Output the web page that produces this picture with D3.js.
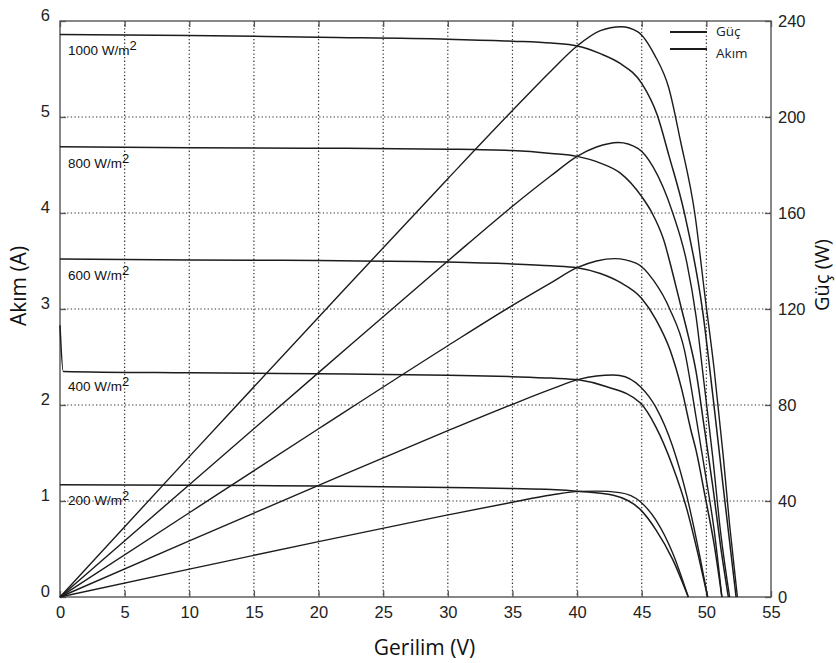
<!DOCTYPE html>
<html>
<head>
<meta charset="utf-8">
<script src="https://cdn.jsdelivr.net/npm/d3@7/dist/d3.min.js"></script>
<style>
    body { margin: 0; background: #fff; }
    svg { display: block; }
</style>
</head>
<body>
<div id="chart"></div>
<script>
// values, [gerilim V, akim A] and [gerilim V, guc W]
var irradiances = ['1000', '800', '600', '400', '200'];

var current1000 = [[0, 5.86], [10, 5.85], [20, 5.83], [30, 5.81], [35, 5.79], [38, 5.77], [40, 5.74], [41.8, 5.66], [43.3, 5.56], [45, 5.35], [46.2, 5.02], [47.1, 4.6], [48.3, 4.0], [49.7, 2.99], [50.5, 2.1], [51.3, 1.15], [52.3, 0]];
var power1000 = [[0, 0], [10, 58.5], [20, 116.6], [30, 174.3], [35, 202.7], [38, 219.3], [40, 229.6], [41.8, 236], [43.4, 237.6], [44.7, 235.5], [46, 225.8], [47.1, 212], [48, 190], [49.1, 160], [49.9, 125], [50.6, 95], [51.3, 59], [51.8, 30], [52.4, 0]];

var current800 = [[0, 4.69], [10, 4.68], [20, 4.675], [30, 4.665], [35, 4.65], [38, 4.62], [40, 4.59], [41.8, 4.52], [43.3, 4.42], [45, 4.17], [45.8, 4.0], [46.7, 3.72], [47.4, 3.37], [48.1, 2.99], [48.6, 2.72], [49.2, 2.35], [49.8, 1.8], [50.5, 1.15], [51.1, 0.53], [51.7, 0]];
var power800 = [[0, 0], [10, 46.8], [20, 93.5], [30, 140], [35, 162.8], [38, 175.6], [40, 183.6], [41.5, 187.5], [43.2, 189.4], [44.7, 186.9], [45.9, 179], [47.4, 160], [48.5, 139], [49.2, 117], [49.8, 90], [50.5, 58], [51.1, 27], [51.8, 0]];

var current600 = [[0, 3.52], [10, 3.51], [20, 3.505], [30, 3.49], [35, 3.47], [38, 3.45], [40, 3.43], [41.8, 3.37], [43.3, 3.28], [45, 3.11], [46.1, 2.89], [47.2, 2.57], [48.1, 2.16], [48.8, 1.74], [49.2, 1.53], [49.9, 1.05], [50.6, 0.55], [51.2, 0]];
var power600 = [[0, 0], [10, 35.1], [20, 70.1], [30, 104.7], [35, 121.5], [38, 131], [40, 137.2], [41.5, 140], [42.9, 141], [44.6, 139], [45.9, 132], [47.2, 119.6], [48.3, 103], [49.2, 75], [49.9, 52], [50.6, 28], [51.2, 0]];

var current400 = [[0, 2.83], [0.25, 2.35], [10, 2.335], [20, 2.325], [30, 2.31], [35, 2.295], [38, 2.28], [40.2, 2.26], [42.3, 2.19], [44.9, 2.02], [46.1, 1.77], [47.4, 1.36], [48.5, 0.91], [49.4, 0.42], [50.1, 0]];
var power400 = [[0, 0], [10, 23.4], [20, 46.5], [30, 69.3], [35, 80.3], [38, 86.6], [40.2, 90.8], [42.8, 92.5], [43.3, 92.3], [44.9, 87.6], [46.1, 79], [47.4, 62.6], [48.5, 41.8], [49.5, 16.8], [50.1, 0]];

var current200 = [[0, 1.17], [10, 1.165], [20, 1.155], [30, 1.14], [35, 1.13], [38, 1.12], [40.2, 1.10], [42.8, 1.06], [44.9, 0.91], [46.1, 0.70], [47.4, 0.39], [48.6, 0]];
var power200 = [[0, 0], [10, 11.6], [20, 23.1], [30, 34.2], [35, 39.5], [38, 42.5], [40.2, 44], [41.5, 44.1], [43.3, 43.5], [44.9, 39.7], [46.1, 32], [47.4, 18.2], [48.6, 0]];

var voltageTicks = [0, 5, 10, 15, 20, 25, 30, 35, 40, 45, 50, 55];
var currentTicks = [0, 1, 2, 3, 4, 5, 6];
var powerTicks = [0, 40, 80, 120, 160, 200, 240];
var legendLabels = ['Güç', 'Akım'];

var currents = [current1000, current800, current600, current400, current200];
var powers = [power1000, power800, power600, power400, power200];

var width = 836, height = 663;
var margin = {top: 21, right: 65, bottom: 66, left: 60};
var lineColor = '#1c1c1c';
var tickFont = '"Liberation Sans", Arial, sans-serif';
var titleFont = '"Open Sans", "DejaVu Sans", sans-serif';

var svg = d3.select('#chart').append('svg')
    .attr('width', width)
    .attr('height', height);

var x = d3.scaleLinear().domain([0, 55]).range([margin.left, width - margin.right]);
var yI = d3.scaleLinear().domain([0, 6]).range([height - margin.bottom, margin.top]);
var yP = d3.scaleLinear().domain([0, 240]).range([height - margin.bottom, margin.top]);

// dotted grid
var grid = svg.append('g')
    .attr('stroke', '#333')
    .attr('stroke-width', 1.2)
    .attr('stroke-dasharray', '1.3,2.3');
grid.selectAll('.gx')
    .data(voltageTicks.slice(1, -1))
    .enter().append('line')
    .attr('x1', function (d) { return x(d); })
    .attr('x2', function (d) { return x(d); })
    .attr('y1', yI(6))
    .attr('y2', yI(0));
grid.selectAll('.gy')
    .data(currentTicks.slice(1, -1))
    .enter().append('line')
    .attr('x1', x(0))
    .attr('x2', x(55))
    .attr('y1', function (d) { return yI(d); })
    .attr('y2', function (d) { return yI(d); });

// axes, ticks pointing inward
function styleAxis(g) {
    g.select('.domain').remove();
    g.selectAll('.tick line').attr('stroke', '#555').attr('stroke-width', 1.3);
    g.selectAll('.tick text')
        .attr('fill', '#222')
        .style('font-family', tickFont)
        .style('font-size', '16.5px');
}

svg.append('g')
    .attr('transform', 'translate(0,' + yI(0) + ')')
    .call(d3.axisBottom(x).tickValues(voltageTicks).tickSize(-6).tickPadding(9))
    .call(styleAxis);
svg.append('g')
    .attr('transform', 'translate(0,' + yI(6) + ')')
    .call(d3.axisTop(x).tickValues(voltageTicks).tickSize(-6).tickFormat(''))
    .call(styleAxis);
svg.append('g')
    .attr('transform', 'translate(' + x(0) + ',0)')
    .call(d3.axisLeft(yI).tickValues(currentTicks).tickFormat(d3.format('d')).tickSize(-6).tickPadding(10))
    .call(styleAxis)
    .selectAll('.tick text').attr('dy', '-0.05em');
svg.append('g')
    .attr('transform', 'translate(' + x(55) + ',0)')
    .call(d3.axisRight(yP).tickValues(powerTicks).tickSize(-6).tickPadding(7))
    .call(styleAxis);

// plot box
svg.append('rect')
    .attr('x', x(0))
    .attr('y', yI(6))
    .attr('width', x(55) - x(0))
    .attr('height', yI(0) - yI(6))
    .attr('fill', 'none')
    .attr('stroke', '#555')
    .attr('stroke-width', 1.4);

// curves
var currentLine = d3.line()
    .x(function (d) { return x(d[0]); })
    .y(function (d) { return yI(d[1]); })
    .curve(d3.curveMonotoneX);
var powerLine = d3.line()
    .x(function (d) { return x(d[0]); })
    .y(function (d) { return yP(d[1]); })
    .curve(d3.curveMonotoneX);

svg.append('g').selectAll('path')
    .data(powers)
    .enter().append('path')
    .attr('d', powerLine)
    .attr('fill', 'none')
    .attr('stroke', lineColor)
    .attr('stroke-width', 1.4);
svg.append('g').selectAll('path')
    .data(currents)
    .enter().append('path')
    .attr('d', currentLine)
    .attr('fill', 'none')
    .attr('stroke', lineColor)
    .attr('stroke-width', 1.5);

// irradiance labels under each current plateau
var labels = svg.append('g')
    .style('font-family', tickFont)
    .style('font-size', '13.5px')
    .attr('fill', '#111');
irradiances.forEach(function (irr, i) {
    var t = labels.append('text')
        .attr('x', x(0) + 8)
        .attr('y', yI(currents[i][1][1]) + 20);
    t.append('tspan').text(irr + ' W/m');
    t.append('tspan').attr('dy', -5).style('font-size', '13px').text('2');
});

// legend
var legend = svg.append('g')
    .style('font-family', titleFont)
    .style('font-size', '13.5px');
legendLabels.forEach(function (lab, i) {
    var ly = 32 + i * 17;
    legend.append('line')
        .attr('x1', 670).attr('x2', 707)
        .attr('y1', ly).attr('y2', ly)
        .attr('stroke', lineColor)
        .attr('stroke-width', 1.8);
    legend.append('text')
        .attr('x', 716)
        .attr('y', 36 + i * 22)
        .attr('fill', '#222')
        .text(lab);
});

// axis titles
svg.append('text')
    .attr('x', (x(0) + x(55)) / 2 + 9)
    .attr('y', 655)
    .attr('text-anchor', 'middle')
    .style('font-family', titleFont)
    .style('font-size', '21px')
    .attr('fill', '#111')
    .text('Gerilim (V)');
svg.append('text')
    .attr('transform', 'translate(26,286) rotate(-90)')
    .attr('text-anchor', 'middle')
    .style('font-family', titleFont)
    .style('font-size', '21px')
    .attr('fill', '#111')
    .text('Akım (A)');
svg.append('text')
    .attr('transform', 'translate(829,275) rotate(-90)')
    .attr('text-anchor', 'middle')
    .style('font-family', titleFont)
    .style('font-size', '20px')
    .attr('fill', '#111')
    .text('Güç (W)');
</script>
</body>
</html>
